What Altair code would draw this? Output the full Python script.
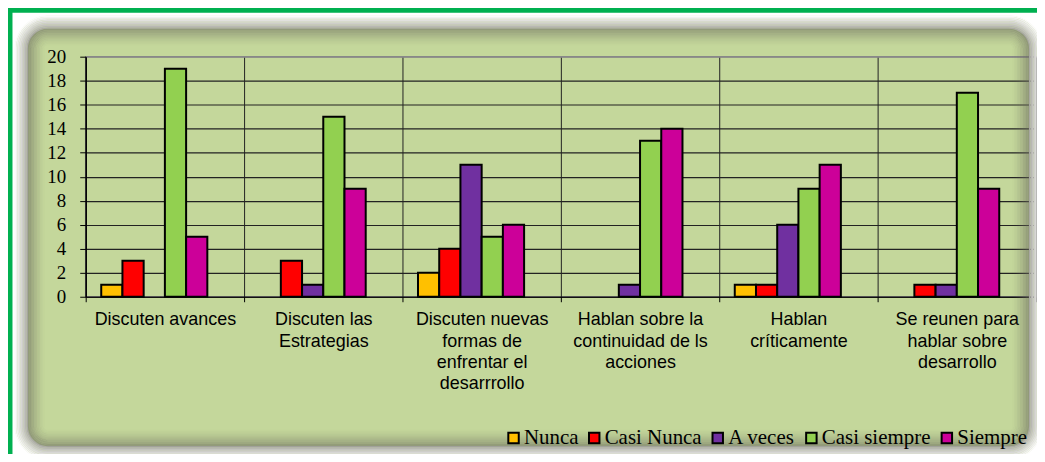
import altair as alt
import pandas as pd

# ---- data ----
categories = [
    "Discuten avances",
    "Discuten las\nEstrategias",
    "Discuten nuevas\nformas de\nenfrentar el\ndesarrrollo",
    "Hablan sobre la\ncontinuidad de ls\nacciones",
    "Hablan\ncríticamente",
    "Se reunen para\nhablar sobre\ndesarrollo",
]
series = ["Nunca", "Casi Nunca", "A veces", "Casi siempre", "Siempre"]
nunca = [1, 0, 2, 0, 1, 0]
casi_nunca = [3, 3, 4, 0, 1, 1]
a_veces = [0, 1, 11, 1, 6, 1]
casi_siempre = [19, 15, 5, 13, 9, 17]
siempre = [5, 9, 6, 14, 11, 9]
colors = ["#FFC000", "#FF0000", "#7030A0", "#92D050", "#CC0099"]
y_ticks = list(range(0, 21, 2))

values_by_series = [nunca, casi_nunca, a_veces, casi_siempre, siempre]
rows = []
for s, vals in zip(series, values_by_series):
    for c, v in zip(categories, vals):
        rows.append({"categoria": c, "serie": s, "valor": v})
df = pd.DataFrame(rows)

W, H = 954, 241
PANEL = "#C4D79B"

bars = (
    alt.Chart(df)
    .transform_filter("datum.valor > 0")
    .mark_bar(stroke="black", strokeWidth=2)
    .encode(
        x=alt.X(
            "categoria:N",
            sort=categories,
            scale=alt.Scale(paddingInner=0, paddingOuter=0),
            axis=alt.Axis(
                title=None,
                tickBand="extent",
                grid=True,
                gridColor="#222222",
                gridWidth=1,
                domainColor="#000000",
                domainWidth=1.2,
                tickColor="#000000",
                tickSize=5,
                labelAngle=0,
                labelFont="Liberation Sans",
                labelFontSize=18,
                labelColor="#000000",
                labelLineHeight=21.5,
                labelPadding=9,
                labelBaseline="top",
                labelLimit=0,
                labelOverlap=False,
                labelBound=False,
                labelExpr="split(datum.label, '\\n')",
            ),
        ),
        xOffset=alt.XOffset(
            "serie:N",
            scale=alt.Scale(domain=series + [" "], paddingInner=0, paddingOuter=0.732),
        ),
        y=alt.Y(
            "valor:Q",
            scale=alt.Scale(domain=[0, 20], nice=False),
            axis=alt.Axis(
                title=None,
                values=y_ticks,
                grid=True,
                gridColor=alt.condition("datum.value == 20", alt.value("#888888"), alt.value("#222222")),
                gridWidth=1.2,
                domainColor="#000000",
                domainWidth=1.5,
                tickColor="#000000",
                tickSize=6,
                labelPadding=14,
                labelFont="Liberation Serif",
                labelFontSize=19,
                labelColor="#000000",
            ),
        ),
        color=alt.Color(
            "serie:N",
            scale=alt.Scale(domain=series, range=colors),
            legend=alt.Legend(
                title=None,
                orient="none",
                direction="horizontal",
                legendX=419,
                legendY=372,
                symbolType="square",
                symbolSize=110,
                symbolStrokeColor="#000000",
                symbolStrokeWidth=2,
                symbolOpacity=1,
                labelFont="Liberation Serif",
                labelFontSize=21,
                labelColor="#000000",
                labelOffset=0,
                columnPadding=5,
                padding=0,
            ),
        ),
    )
)

# ---- decorative frame (white margin, soft blurred shadow, green border) ----
one = pd.DataFrame({"k": [0]})
OX, OY = 78, 48  # plot origin inside the chart
bx0, by0, bx1, by1 = 20 - OX, 20 - OY, 1025 - OX, 439 - OY  # panel edge
R = 20


def ring(d, color, opacity, width):
    """Rounded rectangle outline at signed distance d inside the panel edge."""
    return alt.Chart(one).mark_rect(
        fill=None, stroke=color, strokeOpacity=opacity, strokeWidth=width,
        cornerRadius=max(0.0, R - d),
    ).encode(
        x=alt.value(bx0 + d), x2=alt.value(bx1 - d),
        y=alt.value(by0 + d), y2=alt.value(by1 - d),
    )


def mix(c1, c2, t):
    a = [int(c1[i:i + 2], 16) for i in (1, 3, 5)]
    b = [int(c2[i:i + 2], 16) for i in (1, 3, 5)]
    return "#" + "".join(f"{round(x + (y - x) * t):02x}" for x, y in zip(a, b))


frame = [ring(-13 - 25, "#ffffff", 1, 50)]
M = 9
for j in range(M):
    t = (j + 0.5) / M
    frame.append(ring(-(j + 0.5) * 1.5, mix("#a2a29a", "#ffffff", t ** 0.8), 1, 1.6))
N = 11
for i in range(N):
    frame.append(ring((i + 0.5) * 1.5, "#6a6a5e", 0.55 * (1 - i / N) ** 1.4, 1.6))

border = alt.Chart(one).mark_rect(
    fill=None, stroke="#00B050", strokeWidth=5
).encode(
    x=alt.value(2.0 - OX), x2=alt.value(1200),
    y=alt.value(1.5 - OY), y2=alt.value(600),
)

chart = (
    alt.layer(*frame, border, bars)
    .properties(
        width=W,
        height=H,
        autosize=alt.AutoSizeParams(type="none"),
        padding={"left": OX, "top": OY, "right": 1, "bottom": 157},
        background=PANEL,
    )
    .configure_view(stroke="#888888", strokeWidth=1.5)
)

chart.save("out.html", embed_options={"renderer": "svg", "actions": False})
